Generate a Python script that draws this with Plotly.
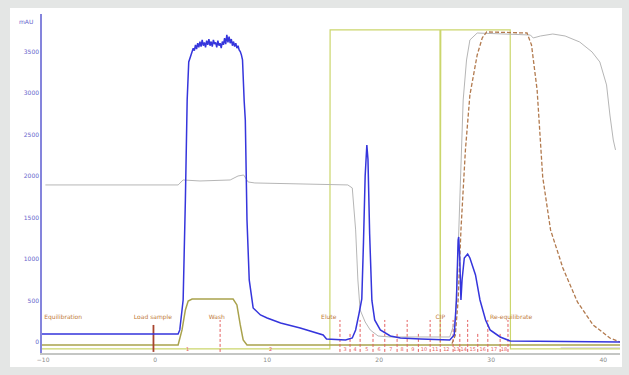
import plotly.graph_objects as go

# ---------------- data (x in ml, y in mAU-scaled units) ----------------
uv_x = [-10.1, 2.05, 2.2, 2.5, 2.7, 2.86, 3.0, 3.2,
        3.3, 3.4, 3.5, 3.6, 3.7, 3.8, 3.9, 4.0, 4.1, 4.2, 4.3, 4.4, 4.5, 4.6, 4.7,
        4.8, 4.9, 5.0, 5.1, 5.2, 5.3, 5.4, 5.5, 5.6, 5.7, 5.8, 5.9, 6.0, 6.1, 6.2,
        6.3, 6.4, 6.5, 6.6, 6.7, 6.8, 6.9, 7.0, 7.1, 7.2, 7.3, 7.4, 7.5, 7.6, 7.7,
        7.8, 7.95, 8.05, 8.2, 8.4, 8.75, 9.4, 10.0, 11.2, 12.95, 14.7, 15.0, 15.3,
        17.0, 17.6, 17.9, 18.2, 18.45, 18.6, 18.75, 18.9, 19.0, 19.15, 19.35, 19.6,
        20.1, 21.0, 21.9, 23.7, 25.4, 26.3, 26.7, 26.9, 27.05, 27.1, 27.2, 27.3,
        27.4, 27.6, 27.9, 28.1, 28.6, 29.0, 29.5, 29.9, 30.8, 31.7, 41.5]
uv_y = [96, 96, 145, 506, 1711, 2916, 3374, 3450,
        3480, 3540, 3510, 3580, 3530, 3600, 3550, 3620, 3560, 3640, 3570, 3610, 3550, 3630, 3580,
        3650, 3570, 3620, 3560, 3640, 3590, 3610, 3550, 3630, 3570, 3600, 3540, 3620, 3580, 3660,
        3590, 3700, 3610, 3680, 3600, 3650, 3570, 3620, 3560, 3600, 3540, 3570, 3520, 3500, 3460,
        3400, 2900, 2675, 1470, 747, 410, 325, 289, 229, 169, 96, 84, 36,
        24, 48, 145, 340, 520, 1200, 2000, 2374, 2200, 1300, 500, 265,
        145, 72, 48, 36, 24, 24, 84, 506, 1229, 1265, 988, 506,
        747, 1012, 1060, 1012, 807, 506, 265, 145, 60, 12, 0]

cond_x = [-9.8, 2.05, 2.5, 4.0, 6.7, 7.4, 7.9, 8.3, 8.9, 12.95, 17.2, 17.6, 17.9,
          18.1, 18.3, 18.75, 19.2, 19.9, 21.0, 26.3, 26.8, 27.05, 27.3, 27.5, 27.8,
          28.1, 28.75, 33.5, 33.75, 34.4, 35.5, 36.6, 37.9, 39.0, 39.7, 40.3, 40.6,
          40.9, 41.1]
cond_y = [1892, 1892, 1952, 1940, 1952, 2000, 2012, 1928, 1916, 1904, 1892, 1856, 1350,
          747, 386, 241, 145, 72, 60, 60, 265, 1109, 1988, 2916, 3398,
          3639, 3723, 3699, 3663, 3687, 3711, 3687, 3615, 3495, 3374, 3097, 2735,
          2434, 2314]

conc_x = [26.5, 26.8, 27.05, 27.3, 27.7, 28.1, 28.75, 29.2, 29.6, 33.2, 33.6, 34.1,
          34.6, 35.3, 36.4, 37.7, 39.1, 40.6, 41.5]
conc_y = [-20, 84, 506, 1350, 2314, 2977, 3458, 3663, 3736, 3723, 3579, 3037,
          1988, 1350, 892, 482, 205, 48, 0]

samp_x = [-10.1, 2.05, 2.4, 2.7, 2.95, 3.3, 6.96, 7.3, 7.6, 7.86, 8.2, 41.5]
samp_y = [-36, -36, 145, 386, 494, 518, 518, 446, 205, 24, -36, -36]

grad_x = [-10.1, 15.6, 15.62, 25.43, 25.45, 25.5, 31.7, 31.72, 41.5]
grad_y = [-84, -84, 3760, 3760, -12, 3760, 3760, -84, -84]

lav_x = [36.2, 41.5]
lav_y = [-72, -72]

frac_x = [5.8, 16.5, 17.4, 18.3, 19.45, 20.5, 21.6, 22.5, 23.5, 24.55, 25.45,
          26.6, 27.2, 27.9, 28.8, 29.7, 30.8, 31.5]
frac_top = [265, 265, 120, 265, 120, 265, 120, 265, 120, 265, 265,
            265, 120, 265, 120, 265, 120, 265]
frac_bottom = -120

frac_label_x = [2.9, 10.3, 16.95, 17.85, 18.9, 20.0, 21.05, 22.05, 23.0, 24.0,
                25.0, 26.0, 26.9, 27.55, 28.35, 29.25, 30.25, 31.15]
frac_labels = [str(i) for i in range(1, 19)]
frac_label_y = -96

inject_x = [-0.15, -0.15]
inject_y = [-120, 205]

event_x = [-9.9, -0.2, 5.5, 15.5, 25.45, 29.9]
event_text = ["Equilibration", "Load sample", "Wash", "Elute", "CIP", "Re-equilibrate"]
event_pos = ["middle right", "middle center", "middle center", "middle center",
             "middle center", "middle right"]
event_y = 300

x_ticks = [-10, 0, 10, 20, 30, 40]
y_ticks = [0, 500, 1000, 1500, 2000, 2500, 3000, 3500]

# ---------------- figure ----------------
fig = go.Figure()

fig.add_trace(go.Scatter(x=lav_x, y=lav_y, mode="lines",
                         line=dict(color="#c4bdea", width=1)))
fig.add_trace(go.Scatter(x=grad_x, y=grad_y, mode="lines",
                         line=dict(color="#cbd66c", width=1.2)))
fig.add_trace(go.Scatter(x=samp_x, y=samp_y, mode="lines",
                         line=dict(color="#a9a24c", width=1.5)))

fx, fy = [], []
for xv, tv in zip(frac_x, frac_top):
    fx += [xv, xv, None]
    fy += [frac_bottom, tv, None]
fig.add_trace(go.Scatter(x=fx, y=fy, mode="lines",
                         line=dict(color="#e46060", width=1, dash="3px,2px")))
fig.add_trace(go.Scatter(x=inject_x, y=inject_y, mode="lines",
                         line=dict(color="#a8442e", width=1.8)))

fig.add_trace(go.Scatter(x=cond_x, y=cond_y, mode="lines",
                         line=dict(color="#b6b6b6", width=1)))
fig.add_trace(go.Scatter(x=conc_x, y=conc_y, mode="lines",
                         line=dict(color="#b27a4e", width=1.3, dash="4px,2px")))
fig.add_trace(go.Scatter(x=uv_x, y=uv_y, mode="lines",
                         line=dict(color="#3535dc", width=1.5)))

fig.add_trace(go.Scatter(x=frac_label_x, y=[frac_label_y] * len(frac_label_x),
                         mode="text", text=frac_labels,
                         textfont=dict(color="#e46060", size=5, family="DejaVu Sans")))
fig.add_trace(go.Scatter(x=event_x, y=[event_y] * len(event_x), mode="text",
                         text=event_text, textposition=event_pos,
                         textfont=dict(color="#c07a3a", size=6, family="DejaVu Sans")))

fig.update_layout(
    width=629, height=375,
    margin=dict(l=42, r=9, t=14, b=22),
    paper_bgcolor="#e4e6e5", plot_bgcolor="white",
    showlegend=False,
    font=dict(family="DejaVu Sans", size=6),
    shapes=[dict(type="rect", xref="paper", yref="paper",
                 x0=-0.0554, x1=1.0035, y0=-0.0413, y1=1.0177,
                 fillcolor="white", line=dict(width=0), layer="below")],
    annotations=[dict(text="mAU", xref="paper", yref="paper", x=-0.012, y=0.979,
                      xanchor="right", yanchor="middle", showarrow=False,
                      font=dict(color="#6666cc", size=6))],
)
fig.update_xaxes(range=[-10.1, 41.5], tickvals=x_ticks, showline=True,
                 linecolor="#c4c6c4", linewidth=2, showgrid=False, zeroline=False,
                 ticks="", tickfont=dict(color="#8a8a8a", size=6))
fig.update_yaxes(range=[-133, 3952], tickvals=y_ticks, showline=True,
                 linecolor="#8484dc", linewidth=1.5, showgrid=False, zeroline=False,
                 ticks="", tickfont=dict(color="#6666cc", size=6))

fig.write_html("out.html", config={"displayModeBar": False},
               post_script="document.body.style.margin='0';document.body.style.overflow='hidden';")
